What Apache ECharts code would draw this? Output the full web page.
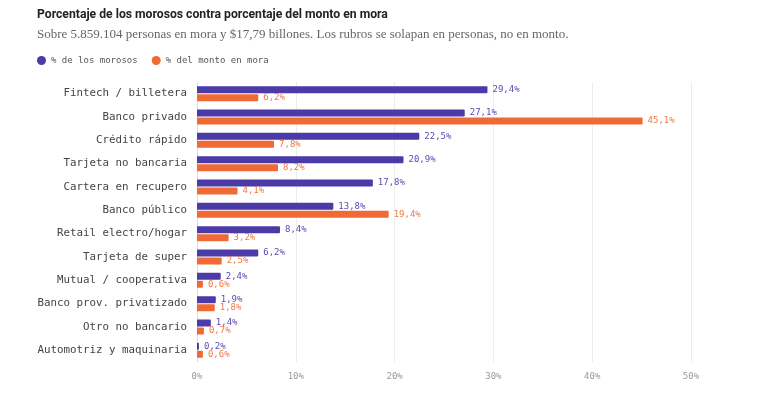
<!DOCTYPE html>
<html>
<head>
<meta charset="utf-8">
<script src="https://cdn.jsdelivr.net/npm/echarts@6/dist/echarts.min.js"></script>
<style>
  html, body { margin: 0; padding: 0; background: #fff; }
  #chart { width: 770px; height: 401px; }
</style>
</head>
<body>
<div id="chart"></div>
<script>
(function () {
    const categories = [
        'Fintech / billetera', 'Banco privado', 'Crédito rápido', 'Tarjeta no bancaria',
        'Cartera en recupero', 'Banco público', 'Retail electro/hogar', 'Tarjeta de super',
        'Mutual / cooperativa', 'Banco prov. privatizado', 'Otro no bancario', 'Automotriz y maquinaria'
    ];
    const morosos = [29.4, 27.1, 22.5, 20.9, 17.8, 13.8, 8.4, 6.2, 2.4, 1.9, 1.4, 0.2];
    const monto = [6.2, 45.1, 7.8, 8.2, 4.1, 19.4, 3.2, 2.5, 0.6, 1.8, 0.7, 0.6];
    const xTicks = [0, 10, 20, 30, 40, 50];

    const mono = '"DejaVu Sans Mono", "Liberation Mono", monospace';
    const purple = '#4b3ba8';
    const orange = '#f06a35';

    let chart = echarts.init(document.querySelector('#chart'));

    const fmt = v => v.toFixed(1).replace('.', ',') + '%';

    let option = {
        animation: false,
        title: [
            {
                text: 'Porcentaje de los morosos contra porcentaje del monto en mora',
                left: 32, top: 4,
                textStyle: { fontFamily: 'Roboto, "Liberation Sans", sans-serif', fontSize: 12.2, fontWeight: 'bold', color: '#222' }
            },
            {
                text: 'Sobre 5.859.104 personas en mora y $17,79 billones. Los rubros se solapan en personas, no en monto.',
                left: 32, top: 23,
                textStyle: { fontFamily: '"Liberation Serif", "DejaVu Serif", serif', fontSize: 13, fontWeight: 'normal', color: '#666' }
            }
        ],
        legend: {
            left: 32, top: 51,
            icon: 'circle',
            itemWidth: 9, itemHeight: 9,
            itemGap: 14,
            textStyle: { fontFamily: mono, fontSize: 9, color: '#555' },
            data: ['% de los morosos', '% del monto en mora']
        },
        grid: { left: 197, right: 79, top: 82, height: 280 },
        xAxis: {
            type: 'value',
            min: 0, max: xTicks[xTicks.length - 1], interval: 10,
            axisLine: { show: false },
            axisTick: { show: false },
            splitLine: { lineStyle: { color: '#ececec', width: 1 } },
            axisLabel: {
                margin: 10,
                fontFamily: mono, fontSize: 9, color: '#999',
                formatter: v => v + '%'
            }
        },
        yAxis: {
            type: 'category',
            inverse: true,
            data: categories,
            axisLine: { show: true, lineStyle: { color: '#dcdcdc' } },
            axisTick: { show: false },
            axisLabel: { margin: 10, fontFamily: mono, fontSize: 10.8, color: '#444' }
        },
        series: [
            {
                name: '% de los morosos',
                type: 'bar',
                data: morosos,
                barWidth: 7,
                barGap: '15%',
                itemStyle: { color: purple, borderRadius: [0, 1, 1, 0] },
                label: {
                    show: true, position: 'right', distance: 5,
                    fontFamily: mono, fontSize: 9, color: '#5a4bb3',
                    formatter: p => fmt(p.value)
                }
            },
            {
                name: '% del monto en mora',
                type: 'bar',
                data: monto,
                barWidth: 7,
                itemStyle: { color: orange, borderRadius: [0, 1, 1, 0] },
                label: {
                    show: true, position: 'right', distance: 5,
                    fontFamily: mono, fontSize: 9, color: '#f07845',
                    formatter: p => fmt(p.value)
                }
            }
        ]
    };

    chart.setOption(option);
})();
</script>
</body>
</html>
